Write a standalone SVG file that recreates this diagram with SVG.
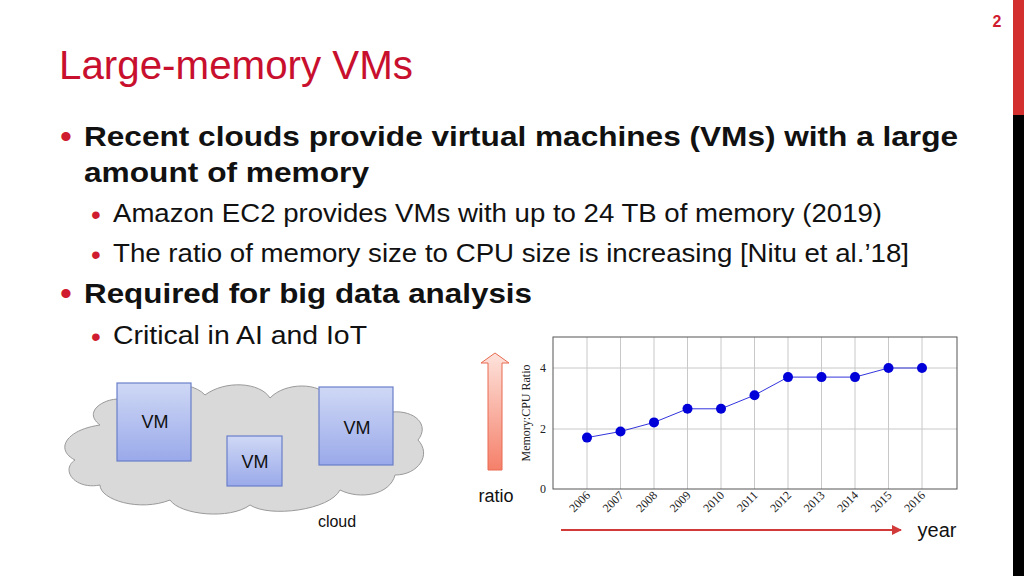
<svg xmlns="http://www.w3.org/2000/svg" width="1024" height="576" viewBox="0 0 1024 576">
<defs>
<style>
.t{font-family:"Liberation Sans",Arial,sans-serif}
.b1{font-size:28px;font-weight:bold;fill:#111}
.b2{font-size:25px;fill:#111}
.dot{fill:#d01c2f}
.vm{fill:url(#vmg);stroke:#6a7fc8;stroke-width:1.2}
.vmt{font-family:"Liberation Sans",Arial,sans-serif;font-size:18px;fill:#111;text-anchor:middle}
.grid{stroke:#c8c8c8;stroke-width:1}
.tick{font-family:"Liberation Serif",serif;font-size:12px;fill:#222}
.pt{fill:#0000d8}
</style>
<linearGradient id="vmg" x1="0" y1="0" x2="0" y2="1"><stop offset="0" stop-color="#cfd8f5"/><stop offset="1" stop-color="#9aa9ea"/></linearGradient>
<linearGradient id="upg" x1="0" y1="0" x2="0" y2="1"><stop offset="0" stop-color="#fde3dc"/><stop offset="1" stop-color="#f5806a"/></linearGradient>
<marker id="ah" markerWidth="10" markerHeight="10" refX="9" refY="5" orient="auto" markerUnits="userSpaceOnUse"><path d="M0,0 L10,5 L0,10 Z" fill="#d23a3a"/></marker>
</defs>
<rect width="1024" height="576" fill="#fff"/>
<rect x="1013" y="0" width="11" height="115" fill="#d32f2f"/>
<rect x="1013" y="115" width="11" height="461" fill="#000"/>
<text x="997" y="27" font-family="Liberation Sans,sans-serif" font-size="16" font-weight="bold" fill="#d01c2f" text-anchor="middle">2</text>
<text x="59" y="79" font-family="Liberation Sans,sans-serif" font-size="40" fill="#c8102e" textLength="354" lengthAdjust="spacingAndGlyphs">Large-memory VMs</text>

<text x="60" y="148" class="t dot" font-size="34">•</text>
<text x="84" y="146" class="t b1" textLength="874" lengthAdjust="spacingAndGlyphs">Recent clouds provide virtual machines (VMs) with a large</text>
<text x="84" y="182" class="t b1" textLength="285" lengthAdjust="spacingAndGlyphs">amount of memory</text>
<text x="91" y="224" class="t dot" font-size="28">•</text>
<text x="113" y="222" class="t b2" textLength="769" lengthAdjust="spacingAndGlyphs">Amazon EC2 provides VMs with up to 24 TB of memory (2019)</text>
<text x="91" y="264" class="t dot" font-size="28">•</text>
<text x="113" y="262" class="t b2" textLength="796" lengthAdjust="spacingAndGlyphs">The ratio of memory size to CPU size is increasing [Nitu et al.’18]</text>
<text x="60" y="305" class="t dot" font-size="34">•</text>
<text x="84" y="303" class="t b1" textLength="448" lengthAdjust="spacingAndGlyphs">Required for big data analysis</text>
<text x="91" y="346" class="t dot" font-size="28">•</text>
<text x="113" y="344" class="t b2" textLength="254" lengthAdjust="spacingAndGlyphs">Critical in AI and IoT</text>

<g id="cloud">
<path d="M100,425 C80,410 110,395 125,400 C135,380 190,378 205,395 C225,380 260,382 270,398 C285,382 320,382 330,398 C350,390 390,398 392,412 C415,410 430,425 418,440 C432,455 418,475 395,475 C390,495 360,500 340,490 C330,510 270,518 250,505 C230,520 180,515 170,500 C140,512 100,500 100,485 C75,490 60,470 75,460 C55,450 65,430 100,425 Z" fill="#d9d9d9" stroke="#9a9a9a" stroke-width="1"/>
<text x="337" y="527" font-family="Liberation Sans,sans-serif" font-size="16" fill="#111" text-anchor="middle">cloud</text>
</g>
<g id="vm1"><rect x="117" y="383" width="74" height="78" class="vm"/><text x="155" y="428" class="vmt">VM</text></g>
<g id="vm2"><rect x="227" y="436" width="55" height="50" class="vm"/><text x="255" y="468" class="vmt">VM</text></g>
<g id="vm3"><rect x="319" y="387" width="74" height="78" class="vm"/><text x="357" y="434" class="vmt">VM</text></g>

<g id="ratio">
<path d="M488,470 L488,363 L481,363 L495,353 L509,363 L502,363 L502,470 Z" fill="url(#upg)" stroke="#e86a50" stroke-width="1"/>
<text x="496" y="502" font-family="Liberation Sans,sans-serif" font-size="18" fill="#111" text-anchor="middle">ratio</text>
</g>

<g id="chart">
<rect x="553" y="337" width="404" height="152" fill="#fff"/>
<g class="grid">
<line x1="553" y1="368" x2="957" y2="368"/><line x1="553" y1="429" x2="957" y2="429"/>
<line x1="587" y1="337" x2="587" y2="489"/><line x1="620.5" y1="337" x2="620.5" y2="489"/><line x1="654" y1="337" x2="654" y2="489"/><line x1="687.5" y1="337" x2="687.5" y2="489"/><line x1="721" y1="337" x2="721" y2="489"/><line x1="754.5" y1="337" x2="754.5" y2="489"/><line x1="788" y1="337" x2="788" y2="489"/><line x1="821.5" y1="337" x2="821.5" y2="489"/><line x1="855" y1="337" x2="855" y2="489"/><line x1="888.5" y1="337" x2="888.5" y2="489"/><line x1="922" y1="337" x2="922" y2="489"/>
</g>
<rect x="553" y="337" width="404" height="152" fill="none" stroke="#555" stroke-width="1"/>
<text x="546" y="493" class="tick" text-anchor="end">0</text>
<text x="546" y="433" class="tick" text-anchor="end">2</text>
<text x="546" y="372" class="tick" text-anchor="end">4</text>
<text transform="translate(530,413) rotate(-90)" class="tick" font-size="13" text-anchor="middle">Memory:CPU Ratio</text>
<polyline points="587,437.6 620.5,431.5 654,422.4 687.5,408.8 721,408.8 754.5,395.2 788,377.1 821.5,377.1 855,377.1 888.5,368 922,368" fill="none" stroke="#3333dd" stroke-width="1"/>
<g class="pt">
<circle cx="587" cy="437.6" r="5"/><circle cx="620.5" cy="431.5" r="5"/><circle cx="654" cy="422.4" r="5"/><circle cx="687.5" cy="408.8" r="5"/><circle cx="721" cy="408.8" r="5"/><circle cx="754.5" cy="395.2" r="5"/><circle cx="788" cy="377.1" r="5"/><circle cx="821.5" cy="377.1" r="5"/><circle cx="855" cy="377.1" r="5"/><circle cx="888.5" cy="368" r="5"/><circle cx="922" cy="368" r="5"/>
</g>
<g class="tick" text-anchor="end">
<text transform="translate(591,496) rotate(-45)">2006</text><text transform="translate(624.5,496) rotate(-45)">2007</text><text transform="translate(658,496) rotate(-45)">2008</text><text transform="translate(691.5,496) rotate(-45)">2009</text><text transform="translate(725,496) rotate(-45)">2010</text><text transform="translate(758.5,496) rotate(-45)">2011</text><text transform="translate(792,496) rotate(-45)">2012</text><text transform="translate(825.5,496) rotate(-45)">2013</text><text transform="translate(859,496) rotate(-45)">2014</text><text transform="translate(892.5,496) rotate(-45)">2015</text><text transform="translate(926,496) rotate(-45)">2016</text>
</g>
</g>

<g id="connectors">
<line x1="561" y1="530" x2="901" y2="530" stroke="#d23a3a" stroke-width="2" marker-end="url(#ah)"/>
</g>
<text x="937" y="537" font-family="Liberation Sans,sans-serif" font-size="20" fill="#111" text-anchor="middle">year</text>
</svg>
